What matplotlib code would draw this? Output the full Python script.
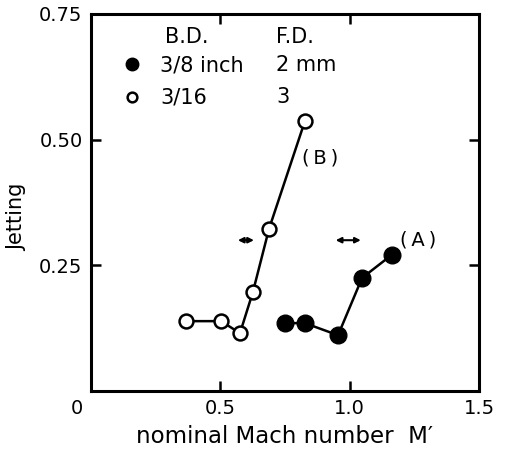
import matplotlib
matplotlib.use("Agg")
from matplotlib import pyplot as plt
from matplotlib.lines import Line2D
from matplotlib.transforms import ScaledTranslation

# series A: B.D. 3/8 inch, F.D. 2 mm (filled)
mach_a = [0.75, 0.827, 0.955, 1.048, 1.163]
jet_a = [0.135, 0.135, 0.111, 0.225, 0.271]

# series B: B.D. 3/16, F.D. 3 (open)
mach_b = [0.367, 0.503, 0.576, 0.626, 0.688, 0.827]
jet_b = [0.139, 0.139, 0.115, 0.197, 0.322, 0.537]

# double arrows (range markers) and curve labels
arrow_b = [0.568, 0.630]
arrow_a = [0.946, 1.043]
arrow_y = 0.30

xticks = [0, 0.5, 1.0, 1.5]
xticklabels = ["0", "0.5", "1.0", "1.5"]
yticks = [0.25, 0.50, 0.75]
yticklabels = ["0.25", "0.50", "0.75"]

plt.rcParams["font.family"] = "DejaVu Sans"
plt.rcParams["font.size"] = 14

fig = plt.figure(figsize=(5.08, 4.51), dpi=100)
ax = fig.add_axes([0.179, 0.133, 0.764, 0.836])

ax.plot(mach_b, jet_b, color="black", lw=1.8, marker="o", ms=10,
        mfc="white", mec="black", mew=1.8, zorder=3)
ax.plot(mach_a, jet_a, color="black", lw=1.8, marker="o", ms=12,
        mfc="black", mec="black", zorder=3)

for xs in (arrow_b, arrow_a):
    ax.annotate("", xy=(xs[0], arrow_y), xytext=(xs[1], arrow_y),
                arrowprops=dict(arrowstyle="<|-|>", color="black", lw=1.5,
                                mutation_scale=8, shrinkA=0, shrinkB=0))

ax.text(0.815, 0.463, "(\u2009B\u2009)", ha="left", va="center", fontsize=14)
ax.text(1.195, 0.30, "(\u2009A\u2009)", ha="left", va="center", fontsize=14)

ax.set_xlim(0, 1.5)
ax.set_ylim(0, 0.75)
ax.set_xticks(xticks)
ax.set_xticklabels(xticklabels)
ax.set_yticks(yticks)
ax.set_yticklabels(yticklabels)
ax.tick_params(direction="in", top=True, right=True, length=7, width=1.8,
               labelsize=14, pad=6)
for s in ax.spines.values():
    s.set_linewidth(2.2)

# the "0" label sits left of the origin
lab0 = ax.get_xticklabels()[0]
lab0.set_transform(lab0.get_transform() + ScaledTranslation(-0.14, 0, fig.dpi_scale_trans))

ax.set_xlabel("nominal Mach number  M\u2032", fontsize=16.5, labelpad=5)
ax.set_ylabel("Jetting", fontsize=15)
ax.yaxis.set_label_coords(-0.165, 0.46)

# legend: two columns (B.D. and F.D.)
handles = [Line2D([], [], ls="none", marker="o", ms=9, mfc="black", mec="black"),
           Line2D([], [], ls="none", marker="o", ms=7, mfc="white", mec="black", mew=1.8)]
ax.legend(handles, ["3/8 inch", "3/16"], loc="upper left",
          bbox_to_anchor=(0.036, 0.928), frameon=False, handlelength=1.2,
          handletextpad=0.75, labelspacing=0.58, fontsize=15, borderpad=0.2)
ax.text(0.191, 0.939, "B.D.", transform=ax.transAxes, ha="left", va="center", fontsize=15)
ax.text(0.477, 0.939, "F.D.", transform=ax.transAxes, ha="left", va="center", fontsize=15)
ax.text(0.477, 0.865, "2 mm", transform=ax.transAxes, ha="left", va="center", fontsize=15)
ax.text(0.477, 0.780, "3", transform=ax.transAxes, ha="left", va="center", fontsize=15)

fig.savefig("out.png", dpi=100)
